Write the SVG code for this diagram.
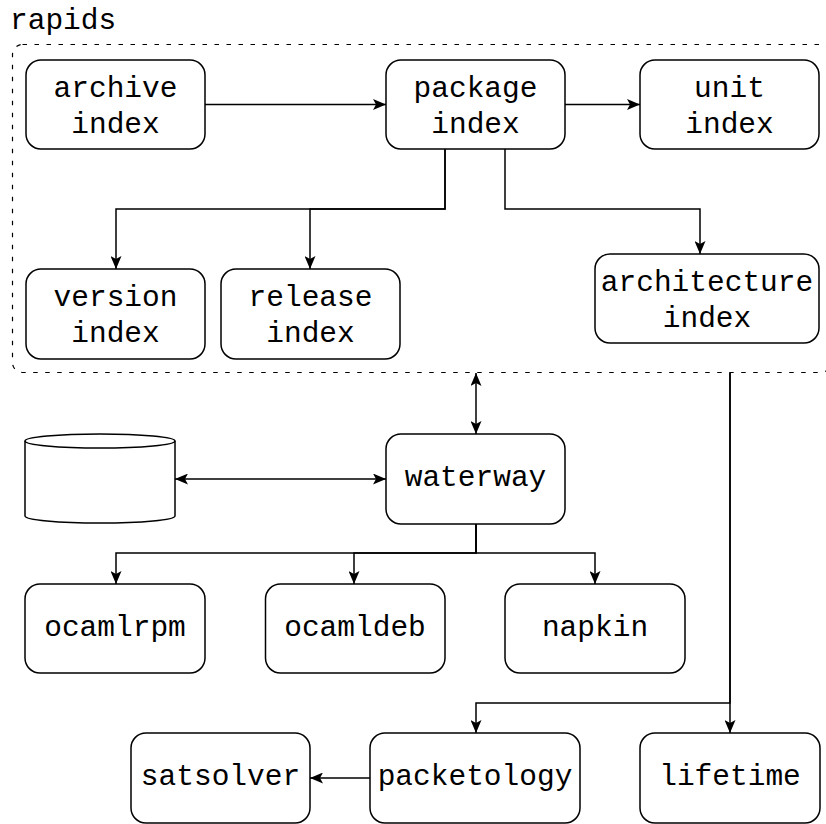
<svg xmlns="http://www.w3.org/2000/svg" width="826" height="824" viewBox="0 0 826 824">
<style>
.box{fill:#fff;stroke:#000;stroke-width:1.5}
.lbl{font-family:"Liberation Mono","Courier New",monospace;font-size:29.5px;fill:#000;text-anchor:middle}
.edge{fill:none;stroke:#000;stroke-width:1.5}
</style>
<defs>
<marker id="arr" viewBox="0 0 13 11" refX="13" refY="5.5" markerWidth="13" markerHeight="11" markerUnits="userSpaceOnUse" orient="auto-start-reverse">
<path d="M0,0 L13,5.5 L0,11 L3,5.5 Z" fill="#000"/>
</marker>
</defs>
<rect width="826" height="824" fill="#fff"/>
<g id="rapids">
<text x="10" y="29" class="lbl" style="text-anchor:start">rapids</text>
<rect x="12.5" y="44.5" width="818" height="328" rx="10" fill="none" stroke="#000" stroke-width="1.2" stroke-dasharray="4.5 7.5"/>
</g>
<g id="connectors">
<path class="edge" d="M205,104.5 H386" marker-end="url(#arr)"/>
<path class="edge" d="M565,104.5 H640" marker-end="url(#arr)"/>
<path class="edge" d="M445,149 V209 H116 V269" marker-end="url(#arr)"/>
<path class="edge" d="M445,149 V209 H310 V269" marker-end="url(#arr)"/>
<path class="edge" d="M505,149 V209 H700 V254" marker-end="url(#arr)"/>
<path class="edge" d="M476,373 V434" marker-start="url(#arr)" marker-end="url(#arr)"/>
<path class="edge" d="M175,479 H386" marker-start="url(#arr)" marker-end="url(#arr)"/>
<path class="edge" d="M476,524 V553 H116 V584" marker-end="url(#arr)"/>
<path class="edge" d="M476,524 V553 H354 V584" marker-end="url(#arr)"/>
<path class="edge" d="M476,524 V553 H595 V584" marker-end="url(#arr)"/>
<path class="edge" d="M730,373 V733" marker-end="url(#arr)"/>
<path class="edge" d="M730,373 V703 H476 V733" marker-end="url(#arr)"/>
<path class="edge" d="M370,778 H310" marker-end="url(#arr)"/>
</g>
<g id="archive-index">
<rect class="box" x="26" y="60" width="179" height="89" rx="15"/>
<text class="lbl" x="115.5" y="96.5">archive</text>
<text class="lbl" x="115.5" y="132.5">index</text>
</g>
<g id="package-index">
<rect class="box" x="386" y="60" width="179" height="89" rx="15"/>
<text class="lbl" x="475.5" y="96.5">package</text>
<text class="lbl" x="475.5" y="132.5">index</text>
</g>
<g id="unit-index">
<rect class="box" x="640" y="60" width="179" height="89" rx="15"/>
<text class="lbl" x="729.5" y="96.5">unit</text>
<text class="lbl" x="729.5" y="132.5">index</text>
</g>
<g id="version-index">
<rect class="box" x="26" y="269" width="179" height="90" rx="15"/>
<text class="lbl" x="115.5" y="306">version</text>
<text class="lbl" x="115.5" y="342">index</text>
</g>
<g id="release-index">
<rect class="box" x="221" y="269" width="179" height="90" rx="15"/>
<text class="lbl" x="310.5" y="306">release</text>
<text class="lbl" x="310.5" y="342">index</text>
</g>
<g id="architecture-index">
<rect class="box" x="595" y="254" width="224" height="89" rx="15"/>
<text class="lbl" x="707" y="290.5">architecture</text>
<text class="lbl" x="707" y="326.5">index</text>
</g>
<g id="storage">
<path class="box" d="M25,441 A75,7 0 0 1 175,441 V516 A75,7 0 0 1 25,516 Z"/>
<path class="edge" d="M25,441 A75,7 0 0 0 175,441"/>
</g>
<g id="waterway">
<rect class="box" x="386" y="434" width="179" height="90" rx="15"/>
<text class="lbl" x="475.5" y="486">waterway</text>
</g>
<g id="ocamlrpm">
<rect class="box" x="25" y="584" width="180" height="89" rx="15"/>
<text class="lbl" x="115" y="635.5">ocamlrpm</text>
</g>
<g id="ocamldeb">
<rect class="box" x="265.5" y="584" width="179.5" height="89" rx="15"/>
<text class="lbl" x="355" y="635.5">ocamldeb</text>
</g>
<g id="napkin">
<rect class="box" x="505" y="584" width="180" height="89" rx="15"/>
<text class="lbl" x="595" y="635.5">napkin</text>
</g>
<g id="satsolver">
<rect class="box" x="131" y="733" width="179" height="90" rx="15"/>
<text class="lbl" x="220.5" y="785">satsolver</text>
</g>
<g id="packetology">
<rect class="box" x="370" y="733" width="210" height="90" rx="15"/>
<text class="lbl" x="475" y="785">packetology</text>
</g>
<g id="lifetime">
<rect class="box" x="640" y="733" width="180" height="90" rx="15"/>
<text class="lbl" x="730" y="785">lifetime</text>
</g>
</svg>
